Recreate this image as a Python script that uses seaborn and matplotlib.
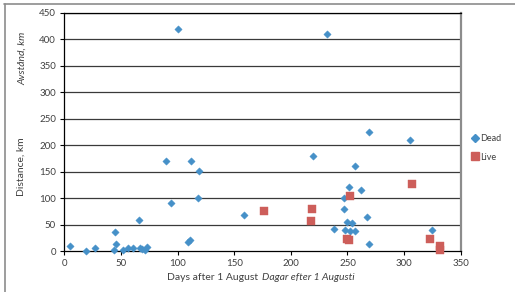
import numpy as np
import pandas as pd
import seaborn as sns
import matplotlib.pyplot as plt
from matplotlib.lines import Line2D

# Dead birds: days after 1 August, distance in km
dead_days = [5, 19, 27, 44, 45, 46, 52, 56, 61, 66, 67, 69, 71, 73,
             90, 94, 100, 109, 111, 112, 118, 119, 159,
             220, 232, 238, 247, 247, 248, 250, 251, 252, 254, 257, 257,
             262, 267, 269, 269, 305, 325]
dead_km = [10, 0, 5, 1, 35, 13, 1, 5, 5, 58, 5, 3, 1, 7,
           170, 90, 420, 17, 21, 170, 100, 151, 68,
           180, 410, 42, 100, 80, 40, 54, 121, 38, 52, 160, 38,
           115, 64, 225, 13, 210, 39]

# Live birds
live_days = [176, 218, 219, 250, 251, 252, 307, 323, 332, 332]
live_km = [75, 57, 80, 22, 20, 104, 126, 22, 10, 1]

x_ticks = [0, 50, 100, 150, 200, 250, 300, 350]
y_ticks = [0, 50, 100, 150, 200, 250, 300, 350, 400, 450]

dead = pd.DataFrame({"days": dead_days, "km": dead_km})
live = pd.DataFrame({"days": live_days, "km": live_km})

sns.set_theme(style="white")
plt.rcParams["font.family"] = ["Lato", "DejaVu Sans"]

blue = "#4590C8"
red = "#CD5E5A"
txt = "#404040"

fig = plt.figure(figsize=(5.15, 2.92), dpi=100)
ax = fig.add_axes([0.1249, 0.1404, 0.7697, 0.8151])

sns.scatterplot(data=dead, x="days", y="km", ax=ax, marker="D", s=14,
                color=blue, edgecolor=blue, linewidth=0.3, zorder=3,
                clip_on=False)
sns.scatterplot(data=live, x="days", y="km", ax=ax, marker="s", s=30,
                color=red, edgecolor=red, linewidth=0.3, zorder=3,
                clip_on=False)

ax.set_xlim(0, 350)
ax.set_ylim(0, 450)
ax.set_xticks(x_ticks)
ax.set_yticks(y_ticks)
ax.set_xlabel("")
ax.set_ylabel("")
ax.tick_params(axis="both", which="major", labelsize=7, colors="#000000",
               labelcolor=txt, length=3, width=0.8, direction="out", pad=3)
ax.xaxis.set_ticks_position("bottom")
ax.yaxis.set_ticks_position("left")

# gridlines
for yv in y_ticks[1:]:
    ax.axhline(yv, color="#3a3a3a", lw=0.9, zorder=1)

for side in ["left", "bottom", "top"]:
    ax.spines[side].set_color("#000000")
    ax.spines[side].set_linewidth(0.9)
ax.spines["right"].set_color("#8c8c8c")
ax.spines["right"].set_linewidth(1.6)

# axis labels: English plain, Swedish italic
fig.text(0.041, 1 - 167 / 292, "Distance, km", rotation=90, fontsize=7.5,
         color=txt, ha="center", va="center")
fig.text(0.043, 1 - 58 / 292, "Avstånd, km", rotation=90, fontsize=7.5,
         color=txt, ha="center", va="center", style="italic")
fig.text(213 / 515, 1 - 277 / 292, "Days after 1 August", fontsize=7.5,
         color=txt, ha="center", va="center")
fig.text(308 / 515, 1 - 277 / 292, "Dagar efter 1 Augusti", fontsize=7.5,
         color=txt, ha="center", va="center", style="italic")

# legend
handles = [Line2D([], [], marker="D", ls="", color=blue, markersize=3.6),
           Line2D([], [], marker="s", ls="", color=red, markersize=5.2)]
fig.legend(handles, ["Dead", "Live"], loc="center left",
           bbox_to_anchor=(464 / 515, 1 - 148 / 292), frameon=False,
           fontsize=6.5, handlelength=0.6, handletextpad=0.25,
           labelspacing=1.0, labelcolor=txt)

# outer chart border (top and left visible)
fig.add_artist(Line2D([4 / 515, 1], [1 - 4 / 292] * 2, color="#8c8c8c", lw=1.2))
fig.add_artist(Line2D([5 / 515] * 2, [0, 1 - 4 / 292], color="#8c8c8c", lw=1.2))

fig.savefig("out.png", dpi=100)
